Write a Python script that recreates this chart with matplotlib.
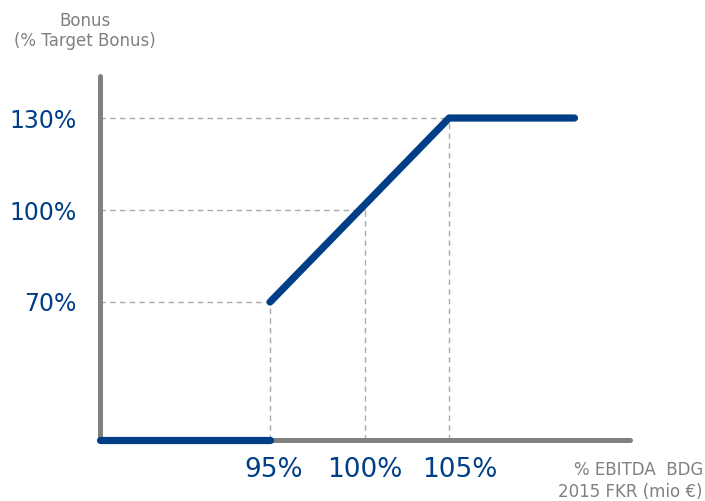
#!/usr/bin/env python3
"""Bonus payout curve vs. % EBITDA target."""

import matplotlib
matplotlib.use('Agg')
import matplotlib.pyplot as plt
import numpy as np

BLUE = '#003F87'
GRAY = '#808080'
DASH = '#AAAAAA'

# payout curve: x = % EBITDA target, y = bonus (% target bonus)
ramp_x = [95, 105, 112]
ramp_y = [70, 130, 130]
floor_x = [85.5, 95]
floor_y = [0, 0]

# reference points marked with dashed guides
guide_x = [95, 100.3, 105]
guide_y = [70, 100, 130]
x_label_pos = [95.2, 100.3, 105.6]
x_labels = ['95%', '100%', '105%']
y_labels = ['70%', '100%', '130%']

Y_FLOOR = 25      # schematic axis bottom (zero bonus drawn on the axis)
X_MIN, X_MAX = 85.5, 115.1
Y_MAX = 143.7

fig = plt.figure(figsize=(7.05, 5.01), dpi=100)
ax = fig.add_axes([0.1418, 0.1218, 0.7518, 0.7265])
ax.set_xlim(X_MIN, X_MAX)
ax.set_ylim(Y_FLOOR, Y_MAX)

# dashed guides
for xv, yv in zip(guide_x, guide_y):
    ax.hlines(yv, X_MIN, xv, colors=DASH, linestyles=(0, (4, 3)), lw=1, zorder=1)
    ax.vlines(xv, Y_FLOOR, yv, colors=DASH, linestyles=(0, (4, 3)), lw=1, zorder=1)

# curve
ax.plot(ramp_x, ramp_y, color=BLUE, lw=5.2, solid_capstyle='round',
        solid_joinstyle='round', zorder=4, clip_on=False)
ax.plot(floor_x, np.maximum(floor_y, Y_FLOOR), color=BLUE, lw=5.2,
        solid_capstyle='round', zorder=4, clip_on=False)

# spines
for s in ['top', 'right']:
    ax.spines[s].set_visible(False)
for s in ['left', 'bottom']:
    ax.spines[s].set_color(GRAY)
    ax.spines[s].set_linewidth(3.6)
    ax.spines[s].set_capstyle('round')
    ax.spines[s].set_zorder(3)

ax.set_xticks(x_label_pos)
ax.set_xticklabels(x_labels)
ax.set_yticks(guide_y)
ax.set_yticklabels(y_labels)
ax.tick_params(axis='both', length=0, labelcolor=BLUE)
ax.tick_params(axis='y', pad=17, labelsize=17)
ax.tick_params(axis='x', pad=12, labelsize=19)

fig.text(85 / 705, 1 - 31 / 501, 'Bonus\n(% Target Bonus)', ha='center',
         va='center', fontsize=12, color=GRAY, linespacing=1.1)
fig.text(703 / 705, 1 - 481 / 501, '% EBITDA  BDG\n2015 FKR (mio €)',
         ha='right', va='center', fontsize=12, color=GRAY, multialignment='right',
         linespacing=1.3)

fig.savefig('out.png', dpi=100, facecolor='white')
